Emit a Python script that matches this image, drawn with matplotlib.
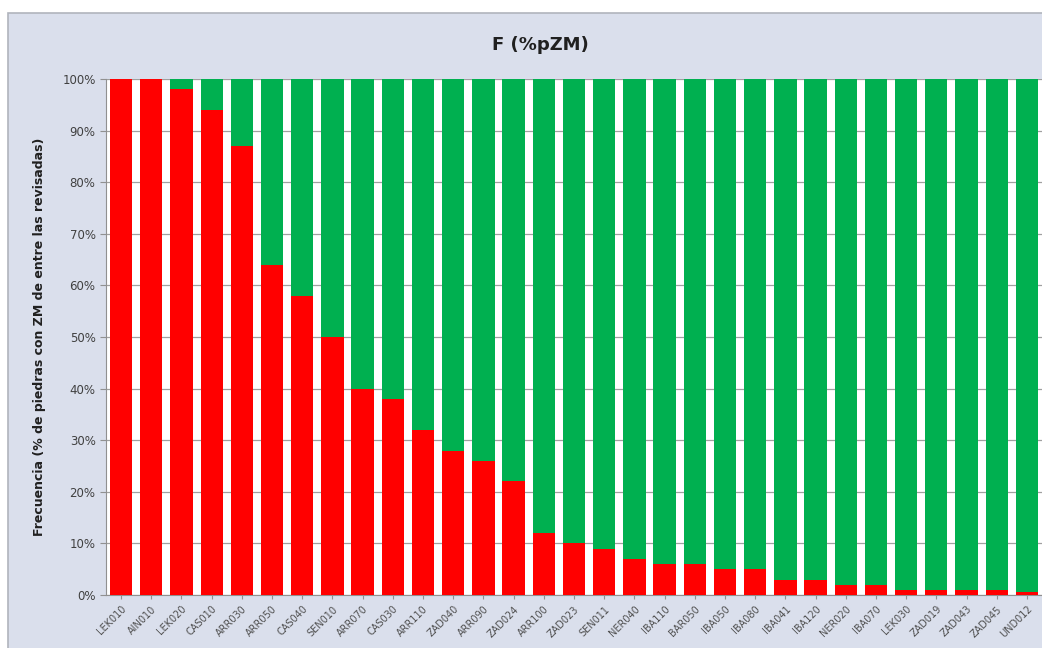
import matplotlib
matplotlib.use("Agg")
import matplotlib.pyplot as plt
from matplotlib.ticker import PercentFormatter
from matplotlib.patches import Rectangle

categories = ["LEK010", "AIN010", "LEK020", "CAS010", "ARR030", "ARR050", "CAS040", "SEN010",
              "ARR070", "CAS030", "ARR110", "ZAD040", "ARR090", "ZAD024", "ARR100", "ZAD023",
              "SEN011", "NER040", "IBA110", "BAR050", "IBA050", "IBA080", "IBA041", "IBA120",
              "NER020", "IBA070", "LEK030", "ZAD019", "ZAD043", "ZAD045", "UND012"]
with_zm = [100, 100, 98, 94, 87, 64, 58, 50, 40, 38, 32, 28, 26, 22, 12, 10,
           9, 7, 6, 6, 5, 5, 3, 3, 2, 2, 1, 1, 1, 1, 0.5]
without_zm = [100 - v for v in with_zm]

fig = plt.figure(figsize=(10.42, 6.48), dpi=100)
fig.patch.set_facecolor("white")
# chart area background with border
bg = Rectangle((8 / 1042, -0.01), 1.0, 1 - 13 / 648 + 0.01, transform=fig.transFigure,
               facecolor="#dadfec", edgecolor="#b0b4bc", linewidth=1.2, zorder=-10)
fig.patches.append(bg)

ax = fig.add_axes([106 / 1042, 1 - 595 / 648, (1042 - 106) / 1042, (595 - 79) / 648])
ax.set_facecolor("white")
x = range(len(categories))
ax.bar(x, with_zm, width=0.74, color="#ff0000", zorder=3)
ax.bar(x, without_zm, bottom=with_zm, width=0.74, color="#00b050", zorder=3)

ax.set_xlim(-0.5, len(categories) - 0.5)
ax.set_ylim(0, 100)
ax.set_yticks(range(0, 101, 10))
ax.yaxis.set_major_formatter(PercentFormatter(decimals=0))
ax.grid(axis="y", color="#a0a0a0", linewidth=0.9, zorder=0)
ax.set_xticks(list(x))
ax.set_xticklabels(categories, rotation=45, ha="right", rotation_mode="anchor",
                   fontsize=7, color="#505050")
ax.tick_params(axis="y", labelsize=8.5, colors="#404040", length=4, color="#909090")
ax.tick_params(axis="x", length=3, color="#909090")
for s in ["top", "right"]:
    ax.spines[s].set_visible(False)
ax.spines["left"].set_color("#909090")
ax.spines["bottom"].set_color("#909090")

ax.set_ylabel("Frecuencia (% de piedras con ZM de entre las revisadas)", fontsize=9,
              fontweight="bold", color="#202020", labelpad=12)
fig.text(540 / 1042, 1 - 45 / 648, "F (%pZM)", ha="center", va="center",
         fontsize=13, fontweight="bold", color="#202020")

fig.savefig("out.png", dpi=100)
